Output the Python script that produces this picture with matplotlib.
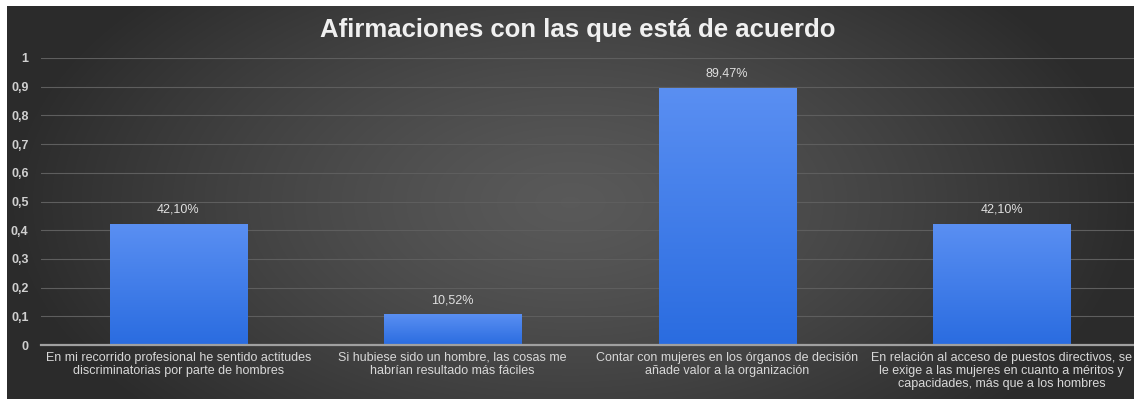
import numpy as np
import matplotlib.pyplot as plt
from matplotlib.ticker import FuncFormatter

plt.rcParams['font.family'] = ['Liberation Sans', 'DejaVu Sans']

categorias = [
    "En mi recorrido profesional he sentido actitudes\ndiscriminatorias por parte de hombres",
    "Si hubiese sido un hombre, las cosas me\nhabrían resultado más fáciles",
    "Contar con mujeres en los órganos de decisión\nañade valor a la organización",
    "En relación al acceso de puestos directivos, se\nle exige a las mujeres en cuanto a méritos y\ncapacidades, más que a los hombres",
]
valores = [0.4210, 0.1052, 0.8947, 0.4210]
etiquetas = ["42,10%", "10,52%", "89,47%", "42,10%"]
yticks = [0, 0.1, 0.2, 0.3, 0.4, 0.5, 0.6, 0.7, 0.8, 0.9, 1]

W, H = 1134, 399
fig = plt.figure(figsize=(W / 100, H / 100), dpi=100, facecolor='white')

# dark radial background, brighter towards the middle
bg = fig.add_axes([7 / W, 0, 1 - 7 / W, 1 - 6 / H])
gx, gy = np.meshgrid(np.linspace(-1, 1, 600), np.linspace(-1, 1, 220))
r = np.sqrt((gx / 1.0) ** 2 + (gy / 1.6) ** 2)
shade = 0.35 - 0.18 * np.clip(r, 0, 1) ** 1.3
bg.imshow(np.dstack([shade] * 3), aspect='auto', extent=[0, 1, 0, 1], interpolation='bicubic')
bg.set_axis_off()

ax = fig.add_axes([41 / W, 54 / H, 1098 / W, 287 / H])
ax.patch.set_alpha(0)
x = np.arange(len(valores))
ancho = 0.5
barras = ax.bar(x, valores, width=ancho, color='none', zorder=3)

# vertical gradient inside each bar
grad = np.linspace(0, 1, 256).reshape(-1, 1)
top = np.array([0x5a, 0x8f, 0xf2]) / 255
bot = np.array([0x2a, 0x6c, 0xe0]) / 255
img = bot + (top - bot) * grad[..., None]
for b in barras:
    x0, w, h = b.get_x(), b.get_width(), b.get_height()
    ax.imshow(img, extent=[x0, x0 + w, 0, h], origin='lower', aspect='auto', zorder=3)

for xi, v, t in zip(x, valores, etiquetas):
    ax.annotate(t, (xi, v), xytext=(0, 6), textcoords='offset points', ha='center', va='bottom',
                color='#e0e0e0', fontsize=9, zorder=4)

ax.set_xlim(-0.5, len(valores) - 0.5)
ax.set_ylim(0, 1)
ax.set_yticks(yticks)
ax.yaxis.set_major_formatter(FuncFormatter(lambda v, _: f"{v:g}".replace('.', ',')))
ax.set_xticks(x)
ax.set_xticklabels(categorias, color='#d8d8d8', fontsize=9, linespacing=1.1)
ax.tick_params(axis='y', length=0, pad=9, labelcolor='#d0d0d0', labelsize=9)
ax.tick_params(axis='x', length=0, pad=5)
for lbl in ax.get_yticklabels():
    lbl.set_fontweight('bold')
ax.grid(axis='y', color='#5e5e5e', linewidth=0.8, zorder=0)
for s in ['top', 'right', 'left']:
    ax.spines[s].set_visible(False)
ax.spines['bottom'].set_color('#a0a0a0')
ax.spines['bottom'].set_linewidth(1.6)
ax.spines['bottom'].set_zorder(5)

fig.text(578 / W, 1 - 30 / H, "Afirmaciones con las que está de acuerdo", ha='center', va='center',
         color='#f0f0f0', fontsize=18.5, fontweight='bold')

fig.savefig('out.png', dpi=100, facecolor='white')
